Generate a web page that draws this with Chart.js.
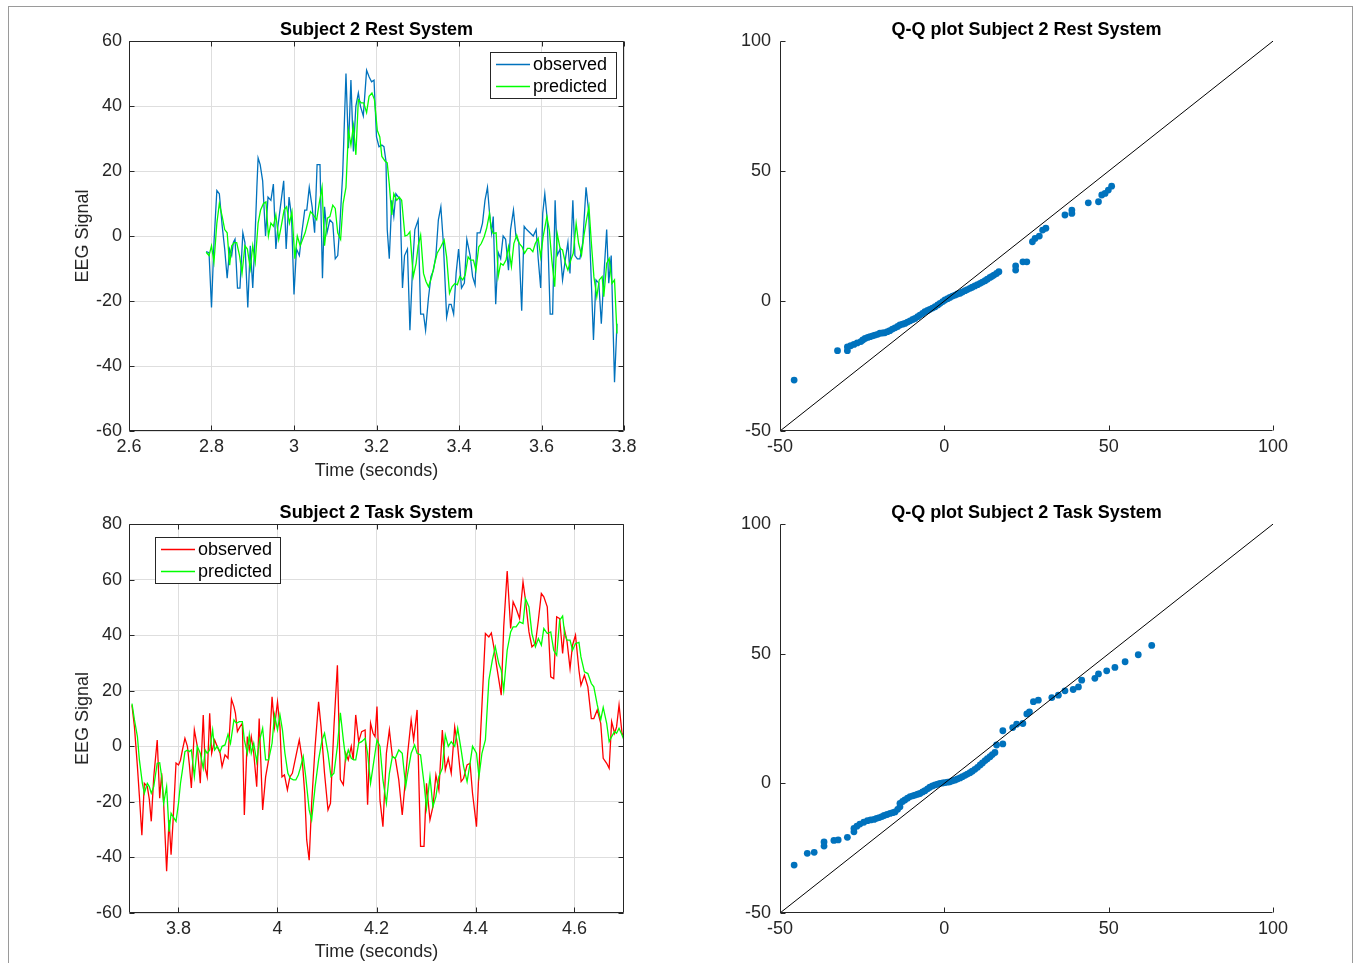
<!DOCTYPE html>
<html><head><meta charset="utf-8">
<script src="https://cdn.jsdelivr.net/npm/chart.js@4.4.1/dist/chart.umd.min.js"></script>
<style>
html,body{margin:0;padding:0;background:#fff;width:1356px;height:963px;overflow:hidden;}
.frame{position:absolute;left:8px;top:6px;width:1345px;height:1000px;border:1px solid #9a9a9a;box-sizing:border-box;}
canvas{position:absolute;}
</style></head><body>
<div class="frame"></div>
<canvas id="c1" width="600" height="483" style="left:60px;top:0px"></canvas>
<canvas id="c2" width="640" height="483" style="left:700px;top:0px"></canvas>
<canvas id="c3" width="600" height="480" style="left:60px;top:483px"></canvas>
<canvas id="c4" width="640" height="480" style="left:700px;top:483px"></canvas>
<script>
// ---------- DATA ----------
const restTitle = 'Subject 2 Rest System';
const taskTitle = 'Subject 2 Task System';
const qqRestTitle = 'Q-Q plot Subject 2 Rest System';
const qqTaskTitle = 'Q-Q plot Subject 2 Task System';
const xAxisTitle = 'Time (seconds)';
const yAxisTitle = 'EEG Signal';
const seriesNames = ['observed', 'predicted'];

const restXTicks = [2.6, 2.8, 3, 3.2, 3.4, 3.6, 3.8];
const restXLabels = ['2.6', '2.8', '3', '3.2', '3.4', '3.6', '3.8'];
const restYTicks = [-60, -40, -20, 0, 20, 40, 60];
const restYLabels = ['-60', '-40', '-20', '0', '20', '40', '60'];
const taskXTicks = [3.8, 4, 4.2, 4.4, 4.6];
const taskXLabels = ['3.8', '4', '4.2', '4.4', '4.6'];
const taskYTicks = [-60, -40, -20, 0, 20, 40, 60, 80];
const taskYLabels = ['-60', '-40', '-20', '0', '20', '40', '60', '80'];
const qqTicks = [-50, 0, 50, 100];
const qqLabels = ['-50', '0', '50', '100'];

const tRestObs = [2.787,2.794,2.800,2.806,2.813,2.819,2.826,2.832,2.838,2.844,
 2.849,2.853,2.857,2.863,2.869,2.876,2.881,2.888,2.894,2.900,
 2.905,2.910,2.913,2.918,2.924,2.931,2.937,2.944,2.950,2.956,
 2.961,2.969,2.975,2.981,2.988,2.994,3.000,3.006,3.013,3.019,
 3.026,3.031,3.037,3.044,3.050,3.056,3.063,3.069,3.074,3.080,
 3.087,3.094,3.100,3.106,3.111,3.118,3.126,3.132,3.138,3.144,
 3.150,3.156,3.161,3.168,3.176,3.182,3.188,3.194,3.200,3.206,
 3.213,3.218,3.223,3.226,3.231,3.237,3.242,3.247,3.253,3.257,
 3.263,3.268,3.275,3.281,3.288,3.293,3.301,3.307,3.314,3.319,
 3.326,3.332,3.338,3.344,3.350,3.356,3.362,3.370,3.376,3.381,
 3.387,3.393,3.399,3.406,3.413,3.419,3.427,3.433,3.439,3.444,
 3.451,3.457,3.463,3.469,3.474,3.479,3.483,3.489,3.495,3.501,
 3.507,3.513,3.520,3.525,3.532,3.538,3.545,3.552,3.558,3.564,
 3.572,3.580,3.587,3.592,3.598,3.603,3.608,3.614,3.621,3.627,
 3.633,3.638,3.645,3.651,3.658,3.664,3.669,3.676,3.681,3.687,
 3.693,3.700,3.708,3.714,3.719,3.726,3.732,3.739,3.745,3.752,
 3.758,3.763,3.769,3.777,3.783];
const vRestObs = [-4.8,-5.1,-22,-2,14,13,3,-4,-13,-4,
 -6,-2,-1,-16,-16,1,-2,-22,-3,-16,
 -2,15,24,22,17,0,12,11,16,-4,
 3,11,17,-4,12,6,-18,-4,-6,1,
 8,8,15,9,1,22,22,-13,9,1,
 5,4,-7,-6,3,19,50,27,48,26,
 40,44,40,37,51,49,47.5,48,30.5,27.5,
 28,27.5,23,2,-7,11,6,13,12,11,
 -16,-6,-4,-29,-8,2,5,-24,-24,-29,
 -19,-12.5,-10.5,-6,5,9,-2,-25,-21,-21,
 -24,-11.5,-4,-16,-14.5,-1,-6,-12.5,-15,1,
 1,4,11,15,7,1,6,-21,-5,-7,
 0,-1,-10.5,2,8,0,-2,-23,3,2,
 1,0,2,-7,-16,7,13,5,-24,-24,
 11,-6,-4,-13.5,-7,-2,-11.5,11,-6,-7,
 -7,-2,15,8,-8,-32,-13.5,-14.5,-27,-10.5,
 2,-14.5,-6,-45,-27];

const tRestPred = [2.787,2.794,2.800,2.806,2.813,2.819,2.826,2.832,2.838,2.844,
 2.849,2.855,2.861,2.868,2.874,2.881,2.887,2.894,2.900,2.906,
 2.913,2.919,2.926,2.932,2.938,2.944,2.950,2.956,2.963,2.969,
 2.976,2.982,2.989,2.995,3.002,3.008,3.015,3.021,3.027,3.034,
 3.040,3.047,3.055,3.061,3.068,3.074,3.081,3.087,3.094,3.100,
 3.106,3.113,3.119,3.126,3.132,3.138,3.144,3.150,3.156,3.163,
 3.169,3.176,3.182,3.189,3.195,3.202,3.208,
 3.213,3.221,3.226,3.231,3.237,3.242,3.249,3.255,3.261,3.269,
 3.275,3.281,3.289,3.296,3.301,3.307,3.314,3.320,3.326,3.334,
 3.341,3.347,3.356,3.364,3.370,3.377,3.383,3.390,3.396,3.402,
 3.409,3.415,3.422,3.428,3.435,3.441,3.448,3.454,3.461,3.467,
 3.474,3.478,3.483,3.490,3.495,3.501,3.507,3.514,3.520,3.527,
 3.533,3.540,3.546,3.553,3.559,3.566,3.572,3.579,3.585,3.592,
 3.598,3.604,3.613,3.619,3.625,3.632,3.638,3.645,3.651,3.658,
 3.664,3.671,3.677,3.684,3.690,3.697,3.703,3.709,3.715,3.721,
 3.727,3.734,3.740,3.747,3.751,3.758,3.764,3.771,3.777,3.783];
const vRestPred = [-5,-6,-3,-8,4,10,6,2,1,-9,
 -3,-2,-2,-6,-11.5,-3,-4,-10,-3,-8,
 4,8,10,10.5,0,4,3,6.5,-1,3,
 8,9,4,7.5,-7,0,-3,-1,1,4.5,
 7.5,6.5,5,10,15,-3,5.5,6,9.5,8.5,
 1,-1,10,15,32.5,28,34,25,42,41,
 41,38,43,44,42,32.5,30.5,
 24.5,23,22.5,16,6.5,13,11,12,11,0,
 0.3,1.3,-12.5,-8.4,-3,0.3,-11.5,-14,-15.6,-12.5,
 -8.4,-5.3,-3.3,-1.2,-6.4,-17.6,-15.6,-14.6,-15,-12.5,
 -13.5,-12,-6.4,-7.4,-7.4,-10.5,-3.3,-2.3,-0.2,2.4,
 7,2.4,0.8,1,-12.5,-8.4,-9,-7.4,-3.3,-9.4,
 -2.3,0.3,-2.3,-3.3,-5.3,-3.8,-3.8,-4.8,-2.3,-0.7,
 -6.4,-0.2,6,1.8,-7.4,-15.6,0.8,-3.8,-4.3,-8.4,
 -10.5,-7.4,-5.3,3.9,-2.3,-5.8,0.3,4.9,9,-2.3,
 -12.5,-18.7,-13.5,-12.5,-18.7,-8.4,-6.9,-14.6,-13.5,-30];

const tTaskObs = [3.706,3.711,3.717,3.721,3.726,3.731,3.737,3.741,3.745,3.750,
 3.757,3.762,3.766,3.770,3.776,3.781,3.785,3.789,3.795,3.800,
 3.804,3.808,3.813,3.818,3.822,3.826,3.832,3.838,3.844,3.850,
 3.854,3.858,3.863,3.867,3.873,3.878,3.884,3.888,3.894,3.900,
 3.907,3.912,3.915,3.919,3.924,3.929,3.933,3.939,3.943,3.947,
 3.952,3.958,3.963,3.970,3.976,3.982,3.989,3.994,4.000,4.005,
 4.009,4.014,4.020,4.025,4.030,4.037,4.044,4.050,4.055,4.059,
 4.064,4.069,4.076,4.083,4.088,4.095,4.102,4.107,4.114,4.121,
 4.127,4.133,4.138,4.143,4.149,4.153,4.158,4.164,4.170,4.177,
 4.182,4.188,4.193,4.197,4.201,4.207,
 4.213,4.220,4.226,4.232,4.238,4.245,4.252,4.259,4.263,4.270,
 4.275,4.282,4.289,4.296,4.301,4.308,4.314,4.320,4.326,4.333,
 4.339,4.345,4.351,4.358,4.364,4.371,4.376,4.383,4.389,4.394,
 4.402,4.410,4.420,4.427,4.432,4.437,4.444,4.452,4.457,4.464,
 4.471,4.476,4.482,4.489,4.496,4.501,4.508,4.514,4.521,4.527,
 4.533,4.538,4.545,4.552,4.558,4.564,4.570,4.576,4.580,4.585,
 4.591,4.596,4.602,4.609,4.613,4.620,4.627,4.634,4.639,4.646,
 4.653,4.658,4.665,4.670,4.675,4.681,4.685,4.690,4.696,4.700];
const vTaskObs = [14.8,7,-7.3,-18,-32,-13.3,-14.5,-19,-27,-11,
 2.3,-18.7,-9.7,-20.5,-45,-26.5,-39,-27,-6,-6.7,
 -5,-1.3,2.9,0,-6.7,-15,5.9,0,-13.3,11.3,
 -7.9,-11,11.9,-2.5,2.3,0,-2.5,-7.3,-3.1,-4.3,
 17,14.3,11.9,5.3,7,8.3,-24.7,3.5,-1.3,3.5,
 -2.5,-14.5,10,-22.9,-11,-4.9,17.8,7,16,7,
 -11,-10.3,-15.7,-11,-9.7,-3.7,2.3,-4.9,-16.9,-33.7,
 -41,-20.5,0,16,7,-9.7,-22.9,-20.5,7,29.2,
 -12,-13.9,-2.5,-4.9,0,-4.9,11.3,1.7,5.3,5.9,
 -21,8.3,4.7,3.5,14.3,-19.3,
 -28.9,-2.5,5.9,-3.7,-4.3,-12.1,-24.7,-10.9,-2.5,9.5,
 2.3,13.1,-36,-36,-13.3,-26.5,-21.7,-10.3,-15.7,5.9,
 -8.5,-4.3,-9.7,7,0,-12.7,-11.5,-6.7,-6.1,-16.9,
 -28.9,3.5,40.6,39.4,40.8,35.8,27.4,18.4,43,63.1,
 42.4,52,49.6,46,59.2,52.6,41.2,35.8,37,45.4,
 55,53.8,50.2,25,24.4,46.6,46,33.4,41.8,37.6,
 28,36.4,40,27.4,22,25.6,21.4,10,10,13.1,
 8.3,-4.3,-6.1,-7.9,8.9,4.7,7,14.9,4.7,3.5];

const tTaskPred = [3.706,3.711,3.717,3.721,3.727,3.731,3.737,3.741,3.745,3.750,
 3.757,3.762,3.766,3.770,3.776,3.781,3.785,3.789,3.795,3.800,
 3.804,3.808,3.813,3.818,3.822,3.826,3.832,3.838,3.844,3.850,
 3.854,3.858,3.863,3.869,3.873,3.878,3.884,3.888,3.894,3.900,
 3.905,3.912,3.917,3.923,3.929,3.933,3.939,3.943,3.947,3.952,
 3.958,3.964,3.970,3.976,3.982,3.989,3.994,4.000,4.005,4.010,
 4.015,4.021,4.026,4.032,4.037,4.042,4.046,4.052,4.057,4.064,
 4.069,4.076,4.083,4.090,4.095,4.102,4.108,4.114,4.121,4.127,
 4.133,4.138,4.143,4.149,4.154,4.158,4.164,4.170,4.177,4.182,
 4.188,4.193,4.197,4.201,4.207,
 4.213,4.220,4.226,4.232,4.238,4.245,4.252,4.259,4.263,4.270,
 4.277,4.282,4.289,4.296,4.301,4.308,4.314,4.320,4.326,4.333,
 4.339,4.345,4.351,4.358,4.364,4.371,4.376,4.383,4.389,4.394,
 4.402,4.407,4.413,4.420,4.427,4.434,4.440,4.447,4.452,4.457,
 4.464,4.471,4.476,4.482,4.489,4.496,4.501,4.508,4.514,4.521,
 4.527,4.533,4.538,4.545,4.552,4.558,4.564,4.570,4.576,4.580,
 4.585,4.591,4.596,4.602,4.609,4.613,4.620,4.627,4.634,4.639,
 4.646,4.653,4.658,4.665,4.670,4.675,4.681,4.685,4.690,4.696,4.700];
const vTaskPred = [15.4,9.5,3.5,-4.9,-13.3,-16.9,-13.3,-14.5,-16.9,-14.5,
 -6.1,-5.9,-10.9,-20.5,-14.5,-30.7,-24.1,-25.3,-27,-20.5,
 -13.3,-8.5,-1.9,-1.3,-1.9,-1.3,-10.9,0,-2.5,-7.9,
 -1.3,-2.5,-1.3,5.9,-1.3,0,-1.9,0,0.5,4.3,
 1.1,9.5,8.3,8.9,8.9,2.3,-2.5,4.1,-2.5,1.1,
 -5.5,2.3,6.5,-4.9,-4.9,1.1,11.3,5.9,11.3,5.9,
 -2.5,-9.7,-11.5,-12.1,-12.1,-10.3,-7.9,-3.7,-10.9,-22.9,
 -26.5,-14.5,-4.9,2.3,4.7,-2.5,-10.9,-9.7,0,12.1,
 2.3,-4.9,-1.3,-4.3,-4.9,-4.9,1.1,1.7,2.9,-2.5,
 -13.3,-7.3,-2.5,2.3,0,
 -12.1,-20.5,-9.7,-3.7,-4.3,-1.3,-2.5,-14.5,-9.7,-2.5,
 0.5,-2.5,-3.1,-13.3,-22.3,-10.9,-21.7,-18.1,-10.9,-7.9,
 4.1,0,1.7,0,6.5,-1.3,-7.3,-12.7,-6.1,0,
 -2.5,-10.9,-2.5,2.3,23.8,31,35.8,29.8,27.4,20.2,
 34.6,41.2,43,43,44.8,44.2,53.2,50.2,40.6,35.8,
 38.8,36.4,42.4,40.6,41.2,34.6,32.8,45.4,46.9,40.6,
 38.2,38.2,34.6,37,37.4,32.2,26.8,26.2,22.6,21.4,
 14.9,9.5,14,8.3,1.7,3.5,5.3,4.7,6.5,4.1,2.3];

const qqRestX = [-45.7,-32.5,-29.5,-29.5,-27.5,-25.4,-24.1,-22.6,-21.1,-19.6,
 -18.1,-16.6,-15,-13.5,-12,-10.4,-8.9,-7.4,-5.9,-4.4,
 -2.8,-1.3,0.2,1.7,3.3,4.8,6.3,7.8,9.3,10.9,
 12.4,13.9,15.1,16.6,21.7,21.7,23.9,25.1,26.8,27.6,
 28.9,29.9,30.9,36.7,38.8,38.8,43.8,46.9,47.9,48.9,
 49.9,50.9,
 -28.5,-26.5,-24.8,-23.3,-21.8,-20.3,-18.8,-17.3,-15.8,-14.2,
 -12.7,-11.2,-9.6,-8.1,-6.6,-5.1,-3.6,-2.0,-0.5,1.0,
 2.5,4.0,5.5,7.0,8.5,10.1,11.6,13.1,14.5,15.9];
const qqRestY = [-30.4,-19.1,-17.6,-19.1,-16.7,-15.6,-14.4,-13.7,-13.1,-12.4,
 -12.2,-11.4,-10.3,-9.2,-8.6,-7.6,-6.7,-5.4,-4.1,-3.2,
 -2.2,-0.9,0.4,1.4,2.3,3,4,4.9,5.8,6.8,
 7.8,9.1,10,11.3,11.9,13.5,15.1,15.1,22.8,24.1,
 25,27.3,28,33.1,33.7,35,37.8,38.2,40.8,41.4,
 42.7,44.2,
 -17.2,-16.1,-15.0,-14.0,-13.4,-12.8,-12.3,-11.8,-10.8,-9.8,
 -8.9,-8.1,-7.1,-6.0,-4.8,-3.6,-2.7,-1.5,-0.2,0.9,
 1.9,2.7,3.5,4.4,5.3,6.3,7.3,8.4,9.5,10.6];
const qqTaskX = [-45.7,-41.7,-39.6,-36.6,-36.6,-33.6,-32.3,-29.5,-27.5,-27.5,
 -25.7,-23.4,-21.4,-19.8,-18.3,-16.5,-15,-13.5,-13.5,-12,
 -10.4,-8.9,-7.4,-5.9,-4.4,-2.8,-1.3,0.2,1.7,3.3,
 4.8,6.3,7.8,9.3,10.9,12.4,13.9,15.4,15.9,17.8,
 17.8,20.8,22,23.9,25.1,25.9,27.1,28.6,32.7,34.7,
 36.7,39.2,40.8,41.8,45.8,46.9,49.4,51.9,55,59,63.1,
 -26.6,-24.5,-22.4,-20.6,-19,-17.4,-15.7,-14.2,-12.7,-11.2,
 -9.6,-8.1,-6.6,-5.1,-3.6,-2,-0.5,1.0,2.5,4.0,
 5.5,7.0,8.5,10.1,11.6,13.1,14.6];
const qqTaskY = [-31.5,-27,-26.6,-24.2,-22.6,-22,-21.8,-20.8,-18.7,-17.4,
 -15.7,-14.4,-13.9,-13.2,-12.4,-11.6,-11,-9,-7.7,-6.4,
 -5.1,-4.5,-3.9,-2.8,-1.5,-0.6,0,0.3,0.6,1.3,
 2.1,3.1,4.1,5.4,7.1,8.8,10.3,11.9,14.8,15.2,
 20.3,21.5,22.8,23.1,26.8,27.6,31.5,32.1,33.1,34,
 35.7,36.2,37.2,39.8,40.5,42.2,43.4,44.7,46.9,49.6,53.2,
 -16.5,-15.0,-14.1,-13.5,-12.8,-12.0,-11.3,-10,-7.0,-5.7,
 -4.8,-4.2,-3.3,-2.1,-1.0,-0.3,0.15,0.45,1.0,1.7,
 2.6,3.6,4.7,6.2,7.9,9.5,11.1];
const refLineX = [-50, 100];
const refLineY = [-50, 100];

// ---------- STYLE / HELPERS ----------
const FONT = '"Liberation Sans", Arial, Helvetica, sans-serif';
const AX = '#262626';
Chart.defaults.font.family = FONT;
Chart.defaults.font.size = 18;
Chart.defaults.color = AX;

function zip(xs, ys){ return xs.map((x,i)=>({x:x, y:ys[i]})); }

const axesFrame = {
  id:'axesFrame',
  afterDatasetsDraw(chart, args, o){
    const ctx = chart.ctx, a = chart.chartArea, xs = chart.scales.x, ys = chart.scales.y;
    const L = Math.round(a.left)+0.5, R = Math.round(a.right)-0.5;
    const T = Math.round(a.top)+0.5, B = Math.round(a.bottom)-0.5;
    const tl = 5;
    ctx.save();
    ctx.strokeStyle = AX; ctx.lineWidth = 1;
    ctx.beginPath();
    if (o.box) { ctx.rect(L, T, R-L, B-T); }
    else { ctx.moveTo(L, T); ctx.lineTo(L, B); ctx.lineTo(R, B); }
    xs.ticks.forEach(t=>{
      const px = Math.round(xs.getPixelForValue(t.value))+0.5;
      ctx.moveTo(px, B); ctx.lineTo(px, B-tl);
      if (o.box) { ctx.moveTo(px, T); ctx.lineTo(px, T+tl); }
    });
    ys.ticks.forEach(t=>{
      const py = Math.round(ys.getPixelForValue(t.value))+0.5;
      ctx.moveTo(L, py); ctx.lineTo(L+tl, py);
      if (o.box) { ctx.moveTo(R, py); ctx.lineTo(R-tl, py); }
    });
    ctx.stroke();
    ctx.restore();
  }
};

const boxLegend = {
  id:'boxLegend',
  afterDraw(chart, args, o){
    if (!o || !o.show) return;
    const ctx = chart.ctx, a = chart.chartArea;
    const w = o.width, h = o.height;
    const x0 = Math.round(o.corner === 'right' ? a.right - o.dx - w : a.left + o.dx);
    const y0 = Math.round(a.top + o.dy);
    ctx.save();
    ctx.fillStyle = '#fff'; ctx.fillRect(x0, y0, w, h);
    ctx.strokeStyle = AX; ctx.lineWidth = 1; ctx.strokeRect(x0+0.5, y0+0.5, w, h);
    ctx.font = '18px ' + FONT; ctx.textBaseline = 'middle'; ctx.textAlign = 'left';
    chart.data.datasets.forEach((ds,i)=>{
      const cy = y0 + 12.5 + i*22;
      ctx.strokeStyle = ds.borderColor; ctx.lineWidth = ds.borderWidth;
      ctx.beginPath(); ctx.moveTo(x0+6, cy); ctx.lineTo(x0+40, cy); ctx.stroke();
      ctx.fillStyle = '#000';
      ctx.fillText(ds.label, x0+43, cy+1);
    });
    ctx.restore();
  }
};

function tickSetter(vals){ return s => { s.ticks = vals.map(v=>({value:v})); }; }

function timeChart(id, cfg){
  return new Chart(document.getElementById(id), {
    type:'line',
    data:{datasets:[
      {label:seriesNames[0], data:zip(cfg.tObs, cfg.vObs), borderColor:cfg.obsColor, borderWidth:1.3, pointRadius:0, tension:0, order:1, fill:false},
      {label:seriesNames[1], data:zip(cfg.tPred, cfg.vPred), borderColor:'#00ff00', borderWidth:1.3, pointRadius:0, tension:0, order:0, fill:false}
    ]},
    options:{
      responsive:false, animation:false, events:[],
      layout:{padding:{left:0, right:36, top:0, bottom:0}},
      plugins:{
        legend:{display:false}, tooltip:{enabled:false},
        title:{display:true, text:cfg.title, fullSize:false, color:'#000',
               font:{size:18, weight:'bold'}, padding:{top:19.5, bottom:0}},
        axesFrame:{box:true},
        boxLegend:cfg.legend
      },
      scales:{
        x:{type:'linear', min:cfg.xMin, max:cfg.xMax,
           afterBuildTicks:tickSetter(cfg.xTicks),
           afterFit:s=>{ s.height = cfg.xAxisH; },
           ticks:{callback:(v,i)=>cfg.xLabels[i], padding:5.5, autoSkip:false, maxRotation:0, minRotation:0, color:AX},
           grid:{color:'#dedede', lineWidth:1, drawTicks:false},
           border:{display:false},
           title:{display:true, text:xAxisTitle, color:AX, font:{size:18}, padding:{top:0, bottom:cfg.xTitlePad}}},
        y:{type:'linear', min:cfg.yMin, max:cfg.yMax,
           afterBuildTicks:tickSetter(cfg.yTicks),
           afterFit:s=>{ s.width = 69; },
           ticks:{callback:(v,i)=>cfg.yLabels[i], padding:7, autoSkip:false, color:AX},
           grid:{color:'#dedede', lineWidth:1, drawTicks:false},
           border:{display:false},
           title:{display:true, text:yAxisTitle, color:AX, font:{size:18}, padding:{top:12.5, bottom:0}}}
      }
    },
    plugins:[axesFrame, boxLegend]
  });
}

function qqChart(id, cfg){
  return new Chart(document.getElementById(id), {
    type:'scatter',
    data:{datasets:[
      {label:'data', data:zip(cfg.qx, cfg.qy), backgroundColor:'#0072bd', borderWidth:0, pointRadius:3.4, order:1},
      {label:'reference', type:'line', data:zip(refLineX, refLineY), borderColor:'#000', borderWidth:1, pointRadius:0, order:0, fill:false}
    ]},
    options:{
      responsive:false, animation:false, events:[],
      layout:{padding:{left:0, right:67, top:0, bottom:0}},
      plugins:{
        legend:{display:false}, tooltip:{enabled:false},
        title:{display:true, text:cfg.title, fullSize:false, color:'#000',
               font:{size:18, weight:'bold'}, padding:{top:19.5, bottom:0}},
        axesFrame:{box:false}
      },
      scales:{
        x:{type:'linear', min:-50, max:100,
           afterBuildTicks:tickSetter(qqTicks),
           afterFit:s=>{ s.height = cfg.xAxisH; },
           ticks:{callback:(v,i)=>qqLabels[i], padding:5.5, autoSkip:false, maxRotation:0, minRotation:0, color:AX},
           grid:{display:false, drawTicks:false},
           border:{display:false}},
        y:{type:'linear', min:-50, max:100,
           afterBuildTicks:tickSetter(qqTicks),
           afterFit:s=>{ s.width = 80; },
           ticks:{callback:(v,i)=>qqLabels[i], padding:9, autoSkip:false, color:AX},
           grid:{display:false, drawTicks:false},
           border:{display:false}}
      }
    },
    plugins:[axesFrame]
  });
}

timeChart('c1', {title:restTitle, tObs:tRestObs, vObs:vRestObs, tPred:tRestPred, vPred:vRestPred,
  obsColor:'#0072bd', xMin:2.6, xMax:3.8, yMin:-60, yMax:60,
  xTicks:restXTicks, xLabels:restXLabels, yTicks:restYTicks, yLabels:restYLabels,
  xAxisH:52, xTitlePad:1.2,
  legend:{show:true, corner:'right', dx:8, dy:11, width:126, height:46}});
qqChart('c2', {title:qqRestTitle, qx:qqRestX, qy:qqRestY, xAxisH:52});
timeChart('c3', {title:taskTitle, tObs:tTaskObs, vObs:vTaskObs, tPred:tTaskPred, vPred:vTaskPred,
  obsColor:'#ff0000', xMin:3.7, xMax:4.7, yMin:-60, yMax:80,
  xTicks:taskXTicks, xLabels:taskXLabels, yTicks:taskYTicks, yLabels:taskYLabels,
  xAxisH:50, xTitlePad:0,
  legend:{show:true, corner:'left', dx:26, dy:13, width:125, height:46}});
qqChart('c4', {title:qqTaskTitle, qx:qqTaskX, qy:qqTaskY, xAxisH:50});
</script>
</body></html>
